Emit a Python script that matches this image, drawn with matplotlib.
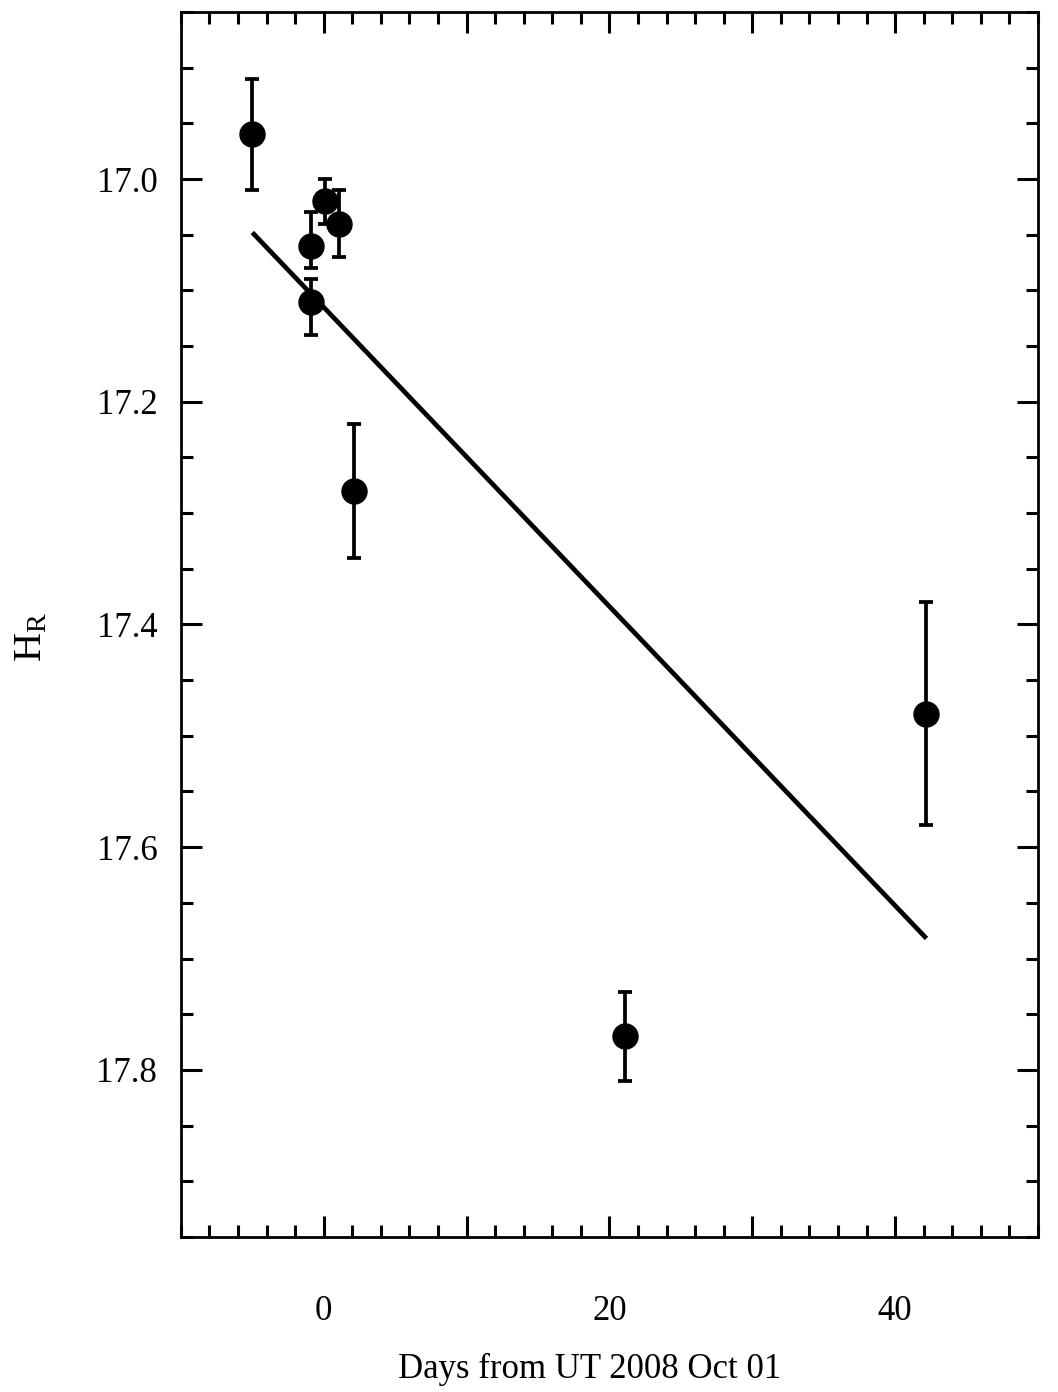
import numpy as np
import matplotlib
matplotlib.use('Agg')
import matplotlib.pyplot as plt
from matplotlib.ticker import MultipleLocator

plt.rcParams['font.family'] = ['Liberation Serif', 'DejaVu Serif']
plt.rcParams['mathtext.fontset'] = 'custom'
plt.rcParams['mathtext.rm'] = 'Liberation Serif'
plt.rcParams['mathtext.it'] = 'Liberation Serif:italic'

# photometry points (days from UT 2008 Oct 01, H_R magnitude)
days = [-5.0, -0.9, -0.9, 0.1, 1.1, 2.1, 21.1, 42.2]
hr = [16.96, 17.06, 17.11, 17.02, 17.04, 17.28, 17.77, 17.48]
err_lo = [0.05, 0.03, 0.02, 0.02, 0.03, 0.06, 0.04, 0.10]
err_hi = [0.05, 0.02, 0.03, 0.02, 0.03, 0.06, 0.04, 0.10]

# linear fit
fit_days = [-5.0, 42.2]
fit_hr = [17.048, 17.682]

fig = plt.figure(figsize=(10.58, 13.92), dpi=100)
ax = fig.add_axes([0.171, 0.1114, 0.81, 0.88])

ax.plot(fit_days, fit_hr, color='black', lw=3.4, solid_capstyle='butt')
ax.errorbar(days, hr, yerr=[err_lo, err_hi], fmt='o', color='black',
            ms=18, elinewidth=2.7, capsize=4.8, capthick=2.7)

ax.set_xlim(-10, 50)
ax.set_ylim(17.95, 16.85)

ax.xaxis.set_major_locator(MultipleLocator(10))
ax.xaxis.set_minor_locator(MultipleLocator(2))
ax.yaxis.set_major_locator(MultipleLocator(0.2))
ax.yaxis.set_minor_locator(MultipleLocator(0.05))
ax.set_xticks([0, 10, 20, 30, 40])
ax.set_xticklabels(['0', '', '20', '', '40'])
ax.yaxis.set_major_formatter(plt.FormatStrFormatter('%.1f'))

ax.tick_params(which='both', direction='in', top=True, right=True,
               width=2.2, labelsize=25)
ax.tick_params(axis='x', which='major', length=15, pad=42)
ax.tick_params(axis='x', which='minor', length=8.5)
ax.tick_params(axis='y', which='major', length=15, pad=17)
ax.tick_params(axis='y', which='minor', length=8.5)
for sp in ax.spines.values():
    sp.set_linewidth(2.0)

ax.set_xlabel('Days from UT 2008 Oct 01', fontsize=25)
ax.set_ylabel(r'$\mathrm{H_R}$', fontsize=29)
ax.xaxis.set_label_coords(0.477, -0.095)
ax.yaxis.set_label_coords(-0.152, 0.49)

fig.savefig('out.png', dpi=100)
